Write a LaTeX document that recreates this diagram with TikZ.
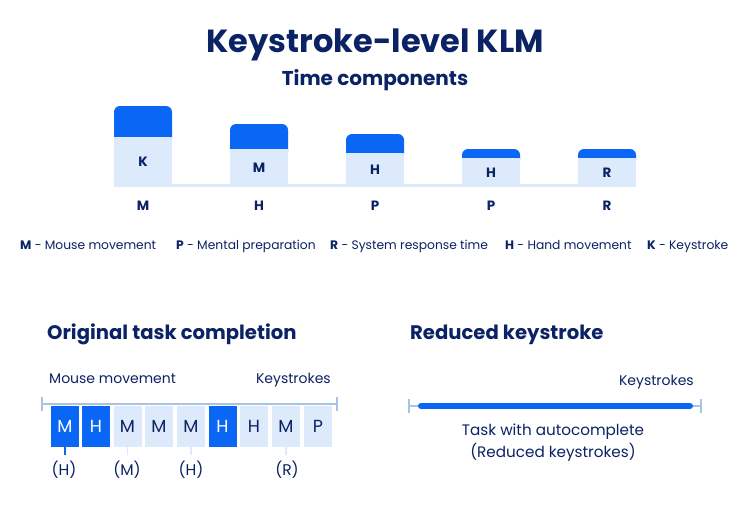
\documentclass[tikz,border=0pt]{standalone}
\usepackage{fontspec}
\setmainfont{Poppins}
\usetikzlibrary{positioning}
\definecolor{navy}{HTML}{0B2265}
\definecolor{brand}{HTML}{0A66F5}
\definecolor{pale}{HTML}{DCEAFB}
\definecolor{rule}{HTML}{A9C3E6}
\tikzset{
  lbl/.style={text=navy,font=\fontsize{12.3}{14}\selectfont,anchor=base west,inner sep=0pt},
  barlbl/.style={text=navy,font=\fontsize{13.5}{16}\selectfont\bfseries,inner sep=0pt},
  lightbox/.style={fill=pale,draw=none,minimum width=28pt,minimum height=41pt,inner sep=0pt,text=navy,font=\fontsize{17.5}{20}\selectfont},
  darkbox/.style={fill=brand,draw=none,minimum width=28pt,minimum height=41pt,inner sep=0pt,text=white,font=\fontsize{17.5}{20}\selectfont},
  paren/.style={text=navy,font=\fontsize{15.5}{18}\selectfont,inner sep=0pt},
  head/.style={text=navy,font=\fontsize{19.6}{22}\selectfont\bfseries,anchor=base west,inner sep=0pt},
  small/.style={text=navy,font=\fontsize{14}{16}\selectfont,inner sep=0pt},
  mid/.style={text=navy,font=\fontsize{15.2}{18}\selectfont,inner sep=0pt},
  rulel/.style={draw=rule,line width=1.4pt},
}
\begin{document}
\begin{tikzpicture}[x=1pt,y=-1pt]
\useasboundingbox[fill=white] (0,0) rectangle (750,514);
% titles
\node[text=navy,font=\fontsize{32}{36}\selectfont\bfseries,inner sep=0pt] (title) at (375,45) {Keystroke-level KLM};
\node[text=navy,font=\fontsize{20}{23}\selectfont\bfseries,inner sep=0pt] (sub) at (375,80) {Time components};
% baseline strip
\fill[pale] (114,184) rectangle (636,187);
% bars
\foreach \x/\t/\d/\a/\b [count=\i] in {114/106/137/K/M, 230/124/149/M/H, 346/134/153/H/P, 462/149/158/H/P, 578/149/158/R/R}{
  \fill[brand,rounded corners=6pt] (\x,\t) rectangle (\x+58,\d+8);
  \fill[pale] (\x,\d) rectangle (\x+58,187);
  \node[barlbl] (in\i) at ({\x+29},{(\d+187)/2}) {\a};
  \node[barlbl] (out\i) at ({\x+29},206) {\b};
}
% legend
\node[lbl] (l1) at (20,249.5) {\textbf{M} - Mouse movement};
\node[lbl] (l2) at (176,249.5) {\textbf{P} - Mental preparation};
\node[lbl] (l3) at (330,249.5) {\textbf{R} - System response time};
\node[lbl] (l4) at (505,249.5) {\textbf{H} - Hand movement};
\node[lbl] (l5) at (647,249.5) {\textbf{K} - Keystroke};
% bottom left
\node[head] (h1) at (47,339) {Original task completion};
\node[small,anchor=base west] (mm) at (49,383) {Mouse movement};
\node[small,anchor=base east] (ks1) at (331,383) {Keystrokes};
\coordinate (La) at (42,404); \coordinate (Lb) at (337,404);
\draw[rulel] (La) -- (Lb);
\draw[rulel] (42,397) -- (42,411);
\draw[rulel] (337,397) -- (337,411);
\foreach \c/\s/\t [count=\i] in {65/darkbox/M, 96/darkbox/H, 127.5/lightbox/M, 159/lightbox/M, 191/lightbox/M, 222.5/darkbox/H, 254/lightbox/H, 286/lightbox/M, 318/lightbox/P}{
  \node[\s] (b\i) at (\c,426.5) {\t};
}
\draw[brand,line width=1.6pt] (b1.south) -- ++(0,8) coordinate (t1);
\draw[pale,line width=1.6pt] (b3.south) -- ++(0,8) coordinate (t3);
\draw[pale,line width=1.6pt] (b5.south) -- ++(0,8) coordinate (t5);
\draw[pale,line width=1.6pt] (b8.south) -- ++(0,8) coordinate (t8);
\node[paren] (p1) at (64,470) {(H)};
\node[paren] (p3) at (127,470) {(M)};
\node[paren] (p5) at (191,470) {(H)};
\node[paren] (p8) at (287,470) {(R)};
% bottom right
\node[head] (h2) at (410,339) {Reduced keystroke};
\node[small,anchor=base east] (ks2) at (694,385) {Keystrokes};
\coordinate (Ra) at (409,406); \coordinate (Rb) at (701,406);
\draw[rulel] (Ra) -- (Rb);
\draw[rulel] (409,399) -- (409,413);
\draw[rulel] (701,399) -- (701,413);
\draw[brand,line width=6pt,line cap=round] (421,406) -- (690,406);
\node[mid] (task) at (553,432) {Task with autocomplete};
\node[mid] (red) at (553,452) {(Reduced keystrokes)};
\end{tikzpicture}
\end{document}
